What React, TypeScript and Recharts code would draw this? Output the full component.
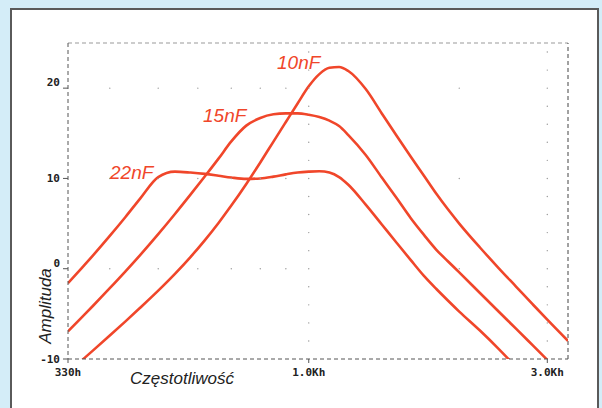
import { LineChart, Line, XAxis, YAxis, ReferenceLine, ReferenceDot } from 'recharts';

// frequency points (Hz), log axis 330 .. 3300
const freqs = [
  330, 350, 370, 400, 430, 460, 500, 540, 580, 620, 660, 700, 750, 800, 850, 900, 950, 1000,
  1050, 1100, 1150, 1200, 1300, 1400, 1500, 1600, 1700, 1800, 1900, 2000, 2200, 2400, 2600,
  2800, 3000, 3300,
];

const amp10nF = [
  -11.5, -10.25, -9.07, -7.4, -5.83, -4.33, -2.43, -0.57, 1.29, 3.17, 5.07, 6.99, 9.39, 11.77,
  14.08, 16.25, 18.3, 20.2, 21.55, 22.25, 22.35, 21.9, 19.9, 17.2, 14.7, 12.4, 10.3, 8.3, 6.55,
  5.0, 2.35, 0.05, -2.0, -3.9, -5.65, -8.0,
];

const amp15nF = [
  -6.95, -5.5, -4.13, -2.16, -0.29, 1.51, 3.83, 6.06, 8.2, 10.24, 12.19, 14.1, 15.85, 16.7, 17.1,
  17.2, 17.2, 17.05, 16.8, 16.4, 15.8, 14.8, 12.6, 10.1, 7.8, 5.6, 3.75, 2.1, 0.8, -0.41, -2.69,
  -4.77, -6.67, -8.44, -10.09, null,
];

const amp22nF = [
  -1.6, -0.04, 1.45, 3.63, 5.73, 7.77, 10.15, 10.75, 10.65, 10.5, 10.3, 10.1, 9.95, 10.0, 10.2,
  10.45, 10.65, 10.75, 10.8, 10.65, 10.15, 9.3, 7.1, 4.9, 2.85, 0.95, -0.8, -2.25, -3.55, -4.75,
  -6.85, -8.9, -10.9, null, null, null,
];

const xTicks = [330, 1000, 3000];
const xTickLabels = ['330h', '1.0Kh', '3.0Kh'];
const yTicks = [-10, 0, 10, 20];

// dotted grid: rows at y ticks, extra columns at these frequencies
const gridRowFreqs = [400, 500, 600, 700, 800, 900, 2000];
const gridRowValues = [20, 10, 0];
const gridColFreqs = [1000, 3000];
const gridColValues = [-8, -6, -4, -2, 0, 2, 4, 6, 8, 10, 12, 14, 16, 18, 20, 22, 24];

const RED = '#f0462a';

const rows = freqs.map((f, i) => ({
  f,
  c10: amp10nF[i],
  c15: amp15nF[i],
  c22: amp22nF[i],
}));

const gridDots = [
  ...gridRowFreqs.flatMap((f) => gridRowValues.map((v) => ({ f, v }))),
  ...gridColFreqs.flatMap((f) => gridColValues.map((v) => ({ f, v }))),
];

const monoFont = '"DejaVu Sans Mono", monospace';

const YTick = ({ x, y, payload }: any) => {
  const lift = payload.value === 20 || payload.value === 0 ? -6 : 0;
  return (
    <text x={x} y={y + lift} dy="0.35em" textAnchor="end" fontFamily={monoFont} fontWeight="bold" fontSize={11} fill="#222">
      {payload.value}
    </text>
  );
};

const XTick = ({ x, y, payload }: any) => {
  const idx = xTicks.indexOf(payload.value);
  return (
    <text x={x} y={y} dy="0.71em" textAnchor="middle" fontFamily={monoFont} fontWeight="bold" fontSize={11} fill="#222">
      {xTickLabels[idx]}
    </text>
  );
};

const labelStyle: React.CSSProperties = {
  position: 'absolute',
  fontFamily: '"Liberation Sans", Arial, sans-serif',
  fontStyle: 'italic',
  fontSize: 19,
  color: RED,
  lineHeight: 1,
};

const titleStyle: React.CSSProperties = {
  position: 'absolute',
  fontFamily: '"Liberation Sans", Arial, sans-serif',
  fontStyle: 'italic',
  fontSize: 17,
  color: '#222',
  lineHeight: 1,
  whiteSpace: 'nowrap',
};

export default function App() {
  return (
    <div style={{ position: 'absolute', left: 0, top: 0, width: 602, height: 408, background: '#d4edf8', overflow: 'hidden' }}>
      <div
        style={{
          position: 'absolute',
          left: 10,
          top: 8,
          width: 585,
          height: 420,
          background: '#fff',
          border: '2px solid #5a5a5a',
          borderBottom: 'none',
        }}
      />
      <div style={{ position: 'absolute', left: 0, top: 0 }}>
        <LineChart width={602} height={408} data={rows} margin={{ top: 43, right: 34, bottom: 19, left: 8 }}>
          <XAxis
            dataKey="f"
            type="number"
            scale="log"
            domain={[330, 3300]}
            allowDataOverflow
            ticks={xTicks}
            tick={<XTick />}
            tickSize={4}
            tickMargin={5}
            height={30}
            axisLine={{ stroke: '#555', strokeDasharray: '4 3' }}
            tickLine={{ stroke: '#555' }}
          />
          <YAxis
            type="number"
            domain={[-10, 25]}
            allowDataOverflow
            ticks={yTicks}
            tick={<YTick />}
            tickSize={5}
            tickMargin={3}
            width={60}
            axisLine={{ stroke: '#555', strokeDasharray: '4 3' }}
            tickLine={{ stroke: '#555' }}
          />
          <ReferenceLine y={25} stroke="#999" strokeDasharray="4 3" />
          <ReferenceLine x={3300} stroke="#444" strokeDasharray="4 3" />
          {gridDots.map((d) => (
            <ReferenceDot key={`${d.f}-${d.v}`} x={d.f} y={d.v} r={0.7} fill="#999" stroke="none" />
          ))}
          <Line dataKey="c10" type="monotone" stroke={RED} strokeWidth={2.6} dot={false} isAnimationActive={false} />
          <Line dataKey="c15" type="monotone" stroke={RED} strokeWidth={2.6} dot={false} isAnimationActive={false} />
          <Line dataKey="c22" type="monotone" stroke={RED} strokeWidth={2.6} dot={false} isAnimationActive={false} />
        </LineChart>
      </div>
      <div style={{ ...labelStyle, left: 277, top: 53 }}>10nF</div>
      <div style={{ ...labelStyle, left: 203, top: 106 }}>15nF</div>
      <div style={{ ...labelStyle, left: 110, top: 163 }}>22nF</div>
      <div style={{ ...titleStyle, left: 130, top: 370 }}>Częstotliwość</div>
      <div style={{ ...titleStyle, left: 45, top: 306, transform: 'translate(-50%, -50%) rotate(-90deg)' }}>
        Amplituda
      </div>
    </div>
  );
}
